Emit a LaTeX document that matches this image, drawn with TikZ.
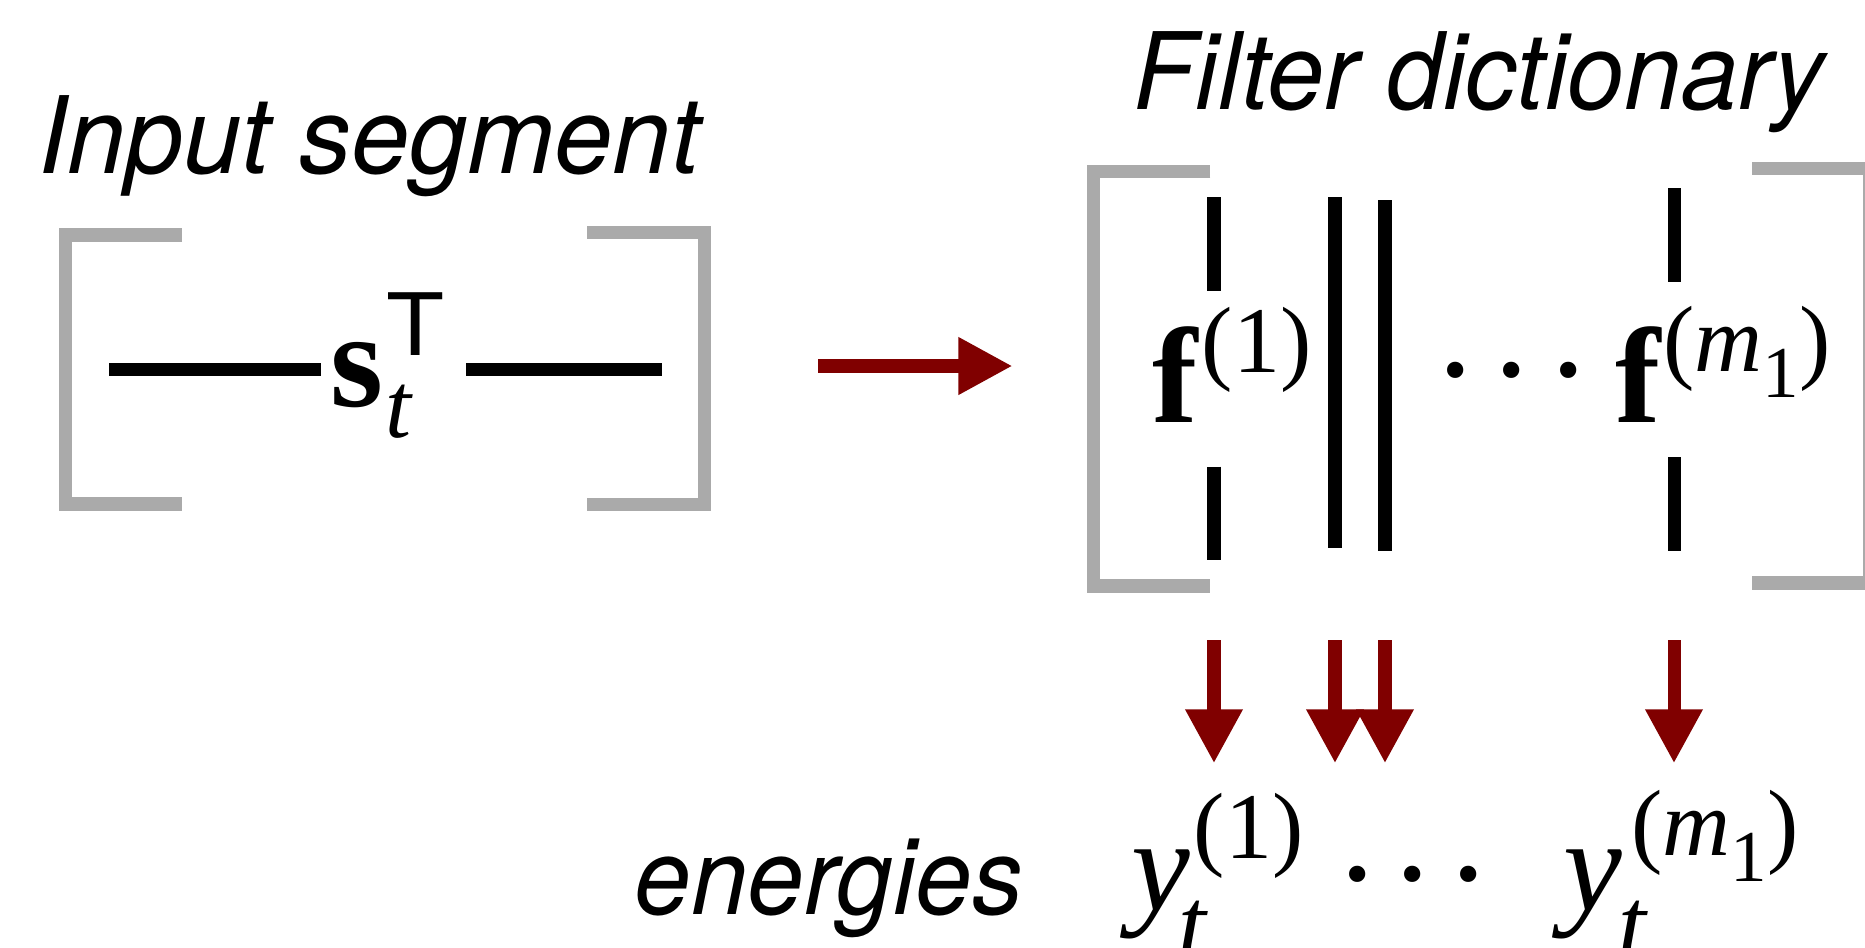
\documentclass[tikz,border=0pt]{standalone}
\usepackage{fontspec}
\newfontfamily\tms{Liberation Serif}
\newfontfamily\hv{TeX Gyre Heros}
\usetikzlibrary{arrows.meta}
\definecolor{brgray}{HTML}{AAAAAA}
\definecolor{dred}{HTML}{800000}
\newcommand\fsz[1]{\fontsize{#1}{#1}\selectfont}
\begin{document}
\begin{tikzpicture}[x=0.01cm,y=-0.01cm,
  bracket/.style={draw=brgray,line width=3.8pt,line cap=butt,line join=miter},
  bar/.style={draw=black,line width=3.7pt,line cap=butt},
  flow/.style={draw=dred,line width=3.7pt,-{Triangle[width=0.54cm,length=0.54cm]}},
  lbl/.style={inner sep=0pt,anchor=base west},
  title/.style={lbl,font=\hv\itshape\fsz{30.4}},
  bigf/.style={lbl,font=\tms\bfseries\fsz{38.7}},
  supx/.style={lbl,font=\tms\fsz{26.75}},
  ity/.style={lbl,font=\tms\itshape\fsz{37.6}},
  subt/.style={lbl,font=\tms\itshape\fsz{28.5}},
  dotsx/.style={inner sep=0pt,anchor=base,font=\tms\fsz{39}},
]
\useasboundingbox (0,0) rectangle (1865,948);
\clip (0,0) rectangle (1865,948);

% titles
\node[title,xscale=0.977] (tin) at (38,173.3) {Input segment};
\node[title,xscale=0.954] (tfd) at (1133,109) {Filter dictionary};
\node[title,xscale=0.95] (ten) at (634,914.3) {energies};

% input segment
\draw[bracket] (182,235) -- (65.5,235) -- (65.5,504) -- (182,504);
\draw[bracket] (587,232.5) -- (704.5,232.5) -- (704.5,504.5) -- (587,504.5);
\draw[bar] (109,369.7) -- (321,369.7);
\draw[bar] (466,369.7) -- (662,369.7);
\node[lbl,font=\tms\bfseries\fsz{38.7}] (s) at (330,406.7) {s};
\node[lbl,font=\tms\itshape\fsz{26.5}] (st) at (385,437) {t};
\node[lbl,font=\hv\fsz{24.5},xscale=1.1] (sT) at (386,355) {T};

% arrow to dictionary
\coordinate (a0) at (818,366);
\coordinate (a1) at (1012.5,366);
\draw[flow] (a0) -- (a1);

% filter dictionary
\draw[bracket] (1210.4,171.7) -- (1093.4,171.7) -- (1093.4,586) -- (1210.4,586);
\draw[bracket] (1752,168.3) -- (1869.4,168.3) -- (1869.4,583) -- (1752,583);
\draw[bar] (1214,197.3) -- (1214,290.7);
\draw[bar] (1214,466.7) -- (1214,560);
\draw[bar] (1335,197.3) -- (1335,547.7);
\draw[bar] (1385,200.3) -- (1385,550.7);
\draw[bar] (1674,188) -- (1674,281.7);
\draw[bar] (1674,457) -- (1674,550.7);
\node[bigf] (f1) at (1152,422.7) {f};
\node[supx] (f1s) at (1201,372.4) {(1)};
\node[dotsx] (dd) at (1512,376) {.\kern6.4pt.\kern6.4pt.};
\node[bigf] (fm) at (1615,422.7) {f};
\node[supx] (fms) at (1662.5,371) {(\textit{m}\raisebox{-7.4pt}{\fsz{20.8}1})};

% arrows down
\coordinate (d1a) at (1214,640); \coordinate (d1b) at (1214,763.3);
\coordinate (d2a) at (1335,640); \coordinate (d2b) at (1335,763.3);
\coordinate (d3a) at (1385,640); \coordinate (d3b) at (1385,763.3);
\coordinate (d4a) at (1674,640); \coordinate (d4b) at (1674,763.3);
\draw[flow] (d1a) -- (d1b);
\draw[flow] (d2a) -- (d2b);
\draw[flow] (d3a) -- (d3b);
\draw[flow] (d4a) -- (d4b);

% energies
\node[ity] (y1) at (1131,910) {y};
\node[subt] (y1t) at (1178,957) {t};
\node[supx] (y1s) at (1193,858) {(1)};
\node[dotsx] (ed) at (1413,880) {.\kern6.1pt.\kern6.1pt.};
\node[ity] (ym) at (1563,910) {y};
\node[subt] (ymt) at (1618,957) {t};
\node[supx] (yms) at (1630.5,855) {(\textit{m}\raisebox{-7.4pt}{\fsz{20.8}1})};
\end{tikzpicture}
\end{document}
